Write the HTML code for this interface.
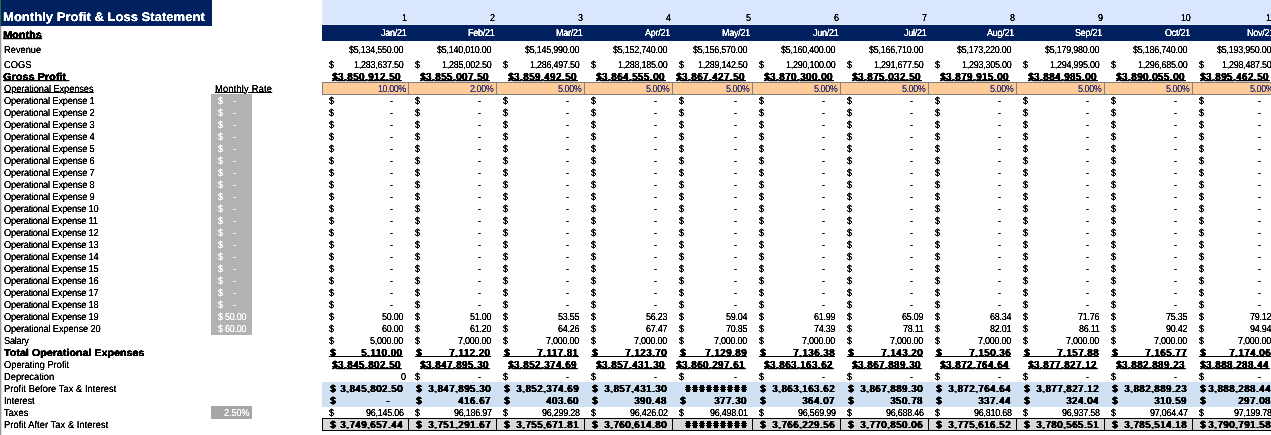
<!DOCTYPE html>
<html><head><meta charset="utf-8"><title>Monthly Profit &amp; Loss Statement</title>
<style>
html,body{margin:0;padding:0;background:#fff}
#s{position:relative;width:1271px;height:435px;overflow:hidden;background:#fff;
  font-family:"Liberation Sans",sans-serif;font-size:9px;line-height:12px;color:#000}
#s div{position:absolute;box-sizing:border-box}
#tx,#tb,#tg{position:absolute;left:0;top:0;width:1271px;height:435px;filter:url(#th)}
#tb{filter:url(#tbf)}
#tg{filter:url(#tgf)}
.t{position:absolute;white-space:nowrap;height:12px;line-height:12px;transform-origin:0 9px;transform:matrix(1,0,.001,1.12,0,0)}
.l{font-size:9.3px;transform:matrix(1,0,.001,1.08,0,0)}
.r{transform-origin:100% 9px}
.b{font-weight:bold;transform:matrix(1.21,0,.001,1.12,0,0);text-shadow:.25px 0 0 #000}
.bn{letter-spacing:.85px;text-shadow:1px 0 0 #000}
.hs{font-weight:bold;transform:scale(1.39,1.07);text-shadow:.4px 0 0 #000,-.4px 0 0 #000}
.n{letter-spacing:-0.25px}
#s .hash{background:repeating-linear-gradient(90deg,#000 0 6px,transparent 6px 7px) 0 2px/100% 1px no-repeat,repeating-linear-gradient(90deg,#000 0 6px,transparent 6px 7px) 0 4px/100% 1px no-repeat,repeating-linear-gradient(90deg,transparent 0 1px,#000 1px 5px,transparent 5px 7px)}
.u{text-decoration:underline;text-underline-offset:0.3px;text-decoration-thickness:1px}
.w{color:#fff}
.in{color:#3f3f76;letter-spacing:-0.45px}
.title{font-size:12.5px;font-weight:bold;color:#fff;height:16px;line-height:16px;transform:matrix(1.045,0,.001,1,0,0)}
</style></head><body><div id="s">
<div style="left:0px;top:0px;width:212px;height:26px;background:#002060"></div>
<div style="left:0px;top:0px;width:1px;height:26px;background:#1e7145"></div>
<div style="left:0px;top:26px;width:1px;height:409px;background:#999"></div>
<div style="left:1px;top:26px;width:1px;height:409px;background:#e0e0e0"></div>
<div style="left:322px;top:0px;width:949px;height:24px;background:#d9e6fc"></div>
<div style="left:322px;top:24px;width:949px;height:1px;background:#e3edfd"></div>
<div style="left:322px;top:25px;width:949px;height:16px;background:#002060"></div>
<div style="left:322px;top:382px;width:949px;height:25px;background:#cfe0f3"></div>
<div style="left:211px;top:94px;width:41px;height:241px;background:#b2b2b2"></div>
<div style="left:211px;top:406px;width:41px;height:13px;background:#a6a6a6"></div>
<div style="left:322px;top:82px;width:87px;height:13px;background:#ffcc99;border:1px solid #7f7f7f"></div>
<div style="left:322px;top:418px;width:87px;height:13px;background:#d9d9d9;border:1px solid #000"></div>
<div style="left:408px;top:82px;width:89px;height:13px;background:#ffcc99;border:1px solid #7f7f7f"></div>
<div style="left:408px;top:418px;width:89px;height:13px;background:#d9d9d9;border:1px solid #000"></div>
<div style="left:496px;top:82px;width:89px;height:13px;background:#ffcc99;border:1px solid #7f7f7f"></div>
<div style="left:496px;top:418px;width:89px;height:13px;background:#d9d9d9;border:1px solid #000"></div>
<div style="left:584px;top:82px;width:89px;height:13px;background:#ffcc99;border:1px solid #7f7f7f"></div>
<div style="left:584px;top:418px;width:89px;height:13px;background:#d9d9d9;border:1px solid #000"></div>
<div style="left:672px;top:82px;width:81px;height:13px;background:#ffcc99;border:1px solid #7f7f7f"></div>
<div style="left:672px;top:418px;width:81px;height:13px;background:#d9d9d9;border:1px solid #000"></div>
<div style="left:752px;top:82px;width:89px;height:13px;background:#ffcc99;border:1px solid #7f7f7f"></div>
<div style="left:752px;top:418px;width:89px;height:13px;background:#d9d9d9;border:1px solid #000"></div>
<div style="left:840px;top:82px;width:89px;height:13px;background:#ffcc99;border:1px solid #7f7f7f"></div>
<div style="left:840px;top:418px;width:89px;height:13px;background:#d9d9d9;border:1px solid #000"></div>
<div style="left:928px;top:82px;width:89px;height:13px;background:#ffcc99;border:1px solid #7f7f7f"></div>
<div style="left:928px;top:418px;width:89px;height:13px;background:#d9d9d9;border:1px solid #000"></div>
<div style="left:1016px;top:82px;width:89px;height:13px;background:#ffcc99;border:1px solid #7f7f7f"></div>
<div style="left:1016px;top:418px;width:89px;height:13px;background:#d9d9d9;border:1px solid #000"></div>
<div style="left:1104px;top:82px;width:89px;height:13px;background:#ffcc99;border:1px solid #7f7f7f"></div>
<div style="left:1104px;top:418px;width:89px;height:13px;background:#d9d9d9;border:1px solid #000"></div>
<div style="left:1192px;top:82px;width:85px;height:13px;background:#ffcc99;border:1px solid #7f7f7f"></div>
<div style="left:1192px;top:418px;width:85px;height:13px;background:#d9d9d9;border:1px solid #000"></div>
<div style="left:329px;top:356px;width:74px;height:1px;background:#000"></div>
<div style="left:415px;top:356px;width:76px;height:1px;background:#000"></div>
<div style="left:503px;top:356px;width:76px;height:1px;background:#000"></div>
<div style="left:591px;top:356px;width:76px;height:1px;background:#000"></div>
<div style="left:679px;top:356px;width:68px;height:1px;background:#000"></div>
<div class="hash" style="left:685px;top:385px;width:63px;height:7px;"></div>
<div class="hash" style="left:685px;top:421px;width:63px;height:7px;"></div>
<div style="left:759px;top:356px;width:76px;height:1px;background:#000"></div>
<div style="left:847px;top:356px;width:76px;height:1px;background:#000"></div>
<div style="left:935px;top:356px;width:76px;height:1px;background:#000"></div>
<div style="left:1023px;top:356px;width:76px;height:1px;background:#000"></div>
<div style="left:1111px;top:356px;width:76px;height:1px;background:#000"></div>
<div style="left:1199px;top:356px;width:72px;height:1px;background:#000"></div>
<section id="tx">
<span class="t title" style="left:3.4px;top:9px">Monthly Profit &amp; Loss Statement</span>
<span class="t l" style="left:3.5px;top:44px;">Revenue</span>
<span class="t l" style="left:3.5px;top:59px;">COGS</span>
<span class="t l u" style="left:3.5px;top:83px;letter-spacing:-0.1px">Operational Expenses</span>
<span class="t l u" style="left:214.5px;top:83px;letter-spacing:0.2px">Monthly Rate</span>
<span class="t l" style="left:3.5px;top:95px;letter-spacing:-0.19px">Operational Expense 1</span>
<span class="t l" style="left:3.5px;top:107px;letter-spacing:-0.19px">Operational Expense 2</span>
<span class="t l" style="left:3.5px;top:119px;letter-spacing:-0.19px">Operational Expense 3</span>
<span class="t l" style="left:3.5px;top:131px;letter-spacing:-0.19px">Operational Expense 4</span>
<span class="t l" style="left:3.5px;top:143px;letter-spacing:-0.19px">Operational Expense 5</span>
<span class="t l" style="left:3.5px;top:155px;letter-spacing:-0.19px">Operational Expense 6</span>
<span class="t l" style="left:3.5px;top:167px;letter-spacing:-0.19px">Operational Expense 7</span>
<span class="t l" style="left:3.5px;top:179px;letter-spacing:-0.19px">Operational Expense 8</span>
<span class="t l" style="left:3.5px;top:191px;letter-spacing:-0.19px">Operational Expense 9</span>
<span class="t l" style="left:3.5px;top:203px;letter-spacing:-0.24px">Operational Expense 10</span>
<span class="t l" style="left:3.5px;top:215px;letter-spacing:-0.24px">Operational Expense 11</span>
<span class="t l" style="left:3.5px;top:227px;letter-spacing:-0.24px">Operational Expense 12</span>
<span class="t l" style="left:3.5px;top:239px;letter-spacing:-0.24px">Operational Expense 13</span>
<span class="t l" style="left:3.5px;top:251px;letter-spacing:-0.24px">Operational Expense 14</span>
<span class="t l" style="left:3.5px;top:263px;letter-spacing:-0.24px">Operational Expense 15</span>
<span class="t l" style="left:3.5px;top:275px;letter-spacing:-0.24px">Operational Expense 16</span>
<span class="t l" style="left:3.5px;top:287px;letter-spacing:-0.24px">Operational Expense 17</span>
<span class="t l" style="left:3.5px;top:299px;letter-spacing:-0.24px">Operational Expense 18</span>
<span class="t l" style="left:3.5px;top:311px;letter-spacing:-0.24px">Operational Expense 19</span>
<span class="t l" style="left:3.5px;top:323px;letter-spacing:-0.15px">Operational Expense 20</span>
<span class="t l" style="left:3.5px;top:335px;letter-spacing:-0.3px">Salary</span>
<span class="t l" style="left:3.5px;top:359px;">Operating Profit</span>
<span class="t l" style="left:3.5px;top:371px;">Deprecation</span>
<span class="t l" style="left:3.5px;top:383px;letter-spacing:0.05px">Profit Before Tax &amp; Interest</span>
<span class="t l" style="left:3.5px;top:395px;letter-spacing:-0.05px">Interest</span>
<span class="t l" style="left:3.5px;top:407px;">Taxes</span>
<span class="t l" style="left:3.5px;top:419px;letter-spacing:0.06px">Profit After Tax &amp; Interest</span>
<span class="t r n" style="right:864.5px;top:12px;">1</span>
<span class="t r w n" style="right:864.5px;top:27px;">Jan/21</span>
<span class="t r n" style="right:867.5px;top:44px;">$5,134,550.00</span>
<span class="t " style="left:328.7px;top:59px;">$</span>
<span class="t r n" style="right:867.5px;top:59px;">1,283,637.50</span>
<span class="t r in" style="right:865.3px;top:83px;">10.00%</span>
<span class="t " style="left:328.7px;top:95px;">$</span>
<span class="t r " style="right:877.8px;top:95px;">-</span>
<span class="t " style="left:328.7px;top:107px;">$</span>
<span class="t r " style="right:877.8px;top:107px;">-</span>
<span class="t " style="left:328.7px;top:119px;">$</span>
<span class="t r " style="right:877.8px;top:119px;">-</span>
<span class="t " style="left:328.7px;top:131px;">$</span>
<span class="t r " style="right:877.8px;top:131px;">-</span>
<span class="t " style="left:328.7px;top:143px;">$</span>
<span class="t r " style="right:877.8px;top:143px;">-</span>
<span class="t " style="left:328.7px;top:155px;">$</span>
<span class="t r " style="right:877.8px;top:155px;">-</span>
<span class="t " style="left:328.7px;top:167px;">$</span>
<span class="t r " style="right:877.8px;top:167px;">-</span>
<span class="t " style="left:328.7px;top:179px;">$</span>
<span class="t r " style="right:877.8px;top:179px;">-</span>
<span class="t " style="left:328.7px;top:191px;">$</span>
<span class="t r " style="right:877.8px;top:191px;">-</span>
<span class="t " style="left:328.7px;top:203px;">$</span>
<span class="t r " style="right:877.8px;top:203px;">-</span>
<span class="t " style="left:328.7px;top:215px;">$</span>
<span class="t r " style="right:877.8px;top:215px;">-</span>
<span class="t " style="left:328.7px;top:227px;">$</span>
<span class="t r " style="right:877.8px;top:227px;">-</span>
<span class="t " style="left:328.7px;top:239px;">$</span>
<span class="t r " style="right:877.8px;top:239px;">-</span>
<span class="t " style="left:328.7px;top:251px;">$</span>
<span class="t r " style="right:877.8px;top:251px;">-</span>
<span class="t " style="left:328.7px;top:263px;">$</span>
<span class="t r " style="right:877.8px;top:263px;">-</span>
<span class="t " style="left:328.7px;top:275px;">$</span>
<span class="t r " style="right:877.8px;top:275px;">-</span>
<span class="t " style="left:328.7px;top:287px;">$</span>
<span class="t r " style="right:877.8px;top:287px;">-</span>
<span class="t " style="left:328.7px;top:299px;">$</span>
<span class="t r " style="right:877.8px;top:299px;">-</span>
<span class="t " style="left:328.7px;top:311px;">$</span>
<span class="t r n" style="right:867.5px;top:311px;">50.00</span>
<span class="t " style="left:328.7px;top:323px;">$</span>
<span class="t r n" style="right:867.5px;top:323px;">60.00</span>
<span class="t " style="left:328.7px;top:335px;">$</span>
<span class="t r n" style="right:867.5px;top:335px;">5,000.00</span>
<span class="t r " style="right:864.5px;top:371px;">0</span>
<span class="t " style="left:328.7px;top:407px;">$</span>
<span class="t r n" style="right:867.5px;top:407px;">96,145.06</span>
<span class="t r n" style="right:776.5px;top:12px;">2</span>
<span class="t r w n" style="right:776.5px;top:27px;">Feb/21</span>
<span class="t r n" style="right:779.5px;top:44px;">$5,140,010.00</span>
<span class="t " style="left:414.7px;top:59px;">$</span>
<span class="t r n" style="right:779.5px;top:59px;">1,285,002.50</span>
<span class="t r in" style="right:777.3px;top:83px;">2.00%</span>
<span class="t " style="left:414.7px;top:95px;">$</span>
<span class="t r " style="right:789.8px;top:95px;">-</span>
<span class="t " style="left:414.7px;top:107px;">$</span>
<span class="t r " style="right:789.8px;top:107px;">-</span>
<span class="t " style="left:414.7px;top:119px;">$</span>
<span class="t r " style="right:789.8px;top:119px;">-</span>
<span class="t " style="left:414.7px;top:131px;">$</span>
<span class="t r " style="right:789.8px;top:131px;">-</span>
<span class="t " style="left:414.7px;top:143px;">$</span>
<span class="t r " style="right:789.8px;top:143px;">-</span>
<span class="t " style="left:414.7px;top:155px;">$</span>
<span class="t r " style="right:789.8px;top:155px;">-</span>
<span class="t " style="left:414.7px;top:167px;">$</span>
<span class="t r " style="right:789.8px;top:167px;">-</span>
<span class="t " style="left:414.7px;top:179px;">$</span>
<span class="t r " style="right:789.8px;top:179px;">-</span>
<span class="t " style="left:414.7px;top:191px;">$</span>
<span class="t r " style="right:789.8px;top:191px;">-</span>
<span class="t " style="left:414.7px;top:203px;">$</span>
<span class="t r " style="right:789.8px;top:203px;">-</span>
<span class="t " style="left:414.7px;top:215px;">$</span>
<span class="t r " style="right:789.8px;top:215px;">-</span>
<span class="t " style="left:414.7px;top:227px;">$</span>
<span class="t r " style="right:789.8px;top:227px;">-</span>
<span class="t " style="left:414.7px;top:239px;">$</span>
<span class="t r " style="right:789.8px;top:239px;">-</span>
<span class="t " style="left:414.7px;top:251px;">$</span>
<span class="t r " style="right:789.8px;top:251px;">-</span>
<span class="t " style="left:414.7px;top:263px;">$</span>
<span class="t r " style="right:789.8px;top:263px;">-</span>
<span class="t " style="left:414.7px;top:275px;">$</span>
<span class="t r " style="right:789.8px;top:275px;">-</span>
<span class="t " style="left:414.7px;top:287px;">$</span>
<span class="t r " style="right:789.8px;top:287px;">-</span>
<span class="t " style="left:414.7px;top:299px;">$</span>
<span class="t r " style="right:789.8px;top:299px;">-</span>
<span class="t " style="left:414.7px;top:311px;">$</span>
<span class="t r n" style="right:779.5px;top:311px;">51.00</span>
<span class="t " style="left:414.7px;top:323px;">$</span>
<span class="t r n" style="right:779.5px;top:323px;">61.20</span>
<span class="t " style="left:414.7px;top:335px;">$</span>
<span class="t r n" style="right:779.5px;top:335px;">7,000.00</span>
<span class="t " style="left:414.7px;top:371px;">$</span>
<span class="t r " style="right:789.8px;top:371px;">-</span>
<span class="t " style="left:414.7px;top:407px;">$</span>
<span class="t r n" style="right:779.5px;top:407px;">96,186.97</span>
<span class="t r n" style="right:688.5px;top:12px;">3</span>
<span class="t r w n" style="right:688.5px;top:27px;">Mar/21</span>
<span class="t r n" style="right:691.5px;top:44px;">$5,145,990.00</span>
<span class="t " style="left:502.7px;top:59px;">$</span>
<span class="t r n" style="right:691.5px;top:59px;">1,286,497.50</span>
<span class="t r in" style="right:689.3px;top:83px;">5.00%</span>
<span class="t " style="left:502.7px;top:95px;">$</span>
<span class="t r " style="right:701.8px;top:95px;">-</span>
<span class="t " style="left:502.7px;top:107px;">$</span>
<span class="t r " style="right:701.8px;top:107px;">-</span>
<span class="t " style="left:502.7px;top:119px;">$</span>
<span class="t r " style="right:701.8px;top:119px;">-</span>
<span class="t " style="left:502.7px;top:131px;">$</span>
<span class="t r " style="right:701.8px;top:131px;">-</span>
<span class="t " style="left:502.7px;top:143px;">$</span>
<span class="t r " style="right:701.8px;top:143px;">-</span>
<span class="t " style="left:502.7px;top:155px;">$</span>
<span class="t r " style="right:701.8px;top:155px;">-</span>
<span class="t " style="left:502.7px;top:167px;">$</span>
<span class="t r " style="right:701.8px;top:167px;">-</span>
<span class="t " style="left:502.7px;top:179px;">$</span>
<span class="t r " style="right:701.8px;top:179px;">-</span>
<span class="t " style="left:502.7px;top:191px;">$</span>
<span class="t r " style="right:701.8px;top:191px;">-</span>
<span class="t " style="left:502.7px;top:203px;">$</span>
<span class="t r " style="right:701.8px;top:203px;">-</span>
<span class="t " style="left:502.7px;top:215px;">$</span>
<span class="t r " style="right:701.8px;top:215px;">-</span>
<span class="t " style="left:502.7px;top:227px;">$</span>
<span class="t r " style="right:701.8px;top:227px;">-</span>
<span class="t " style="left:502.7px;top:239px;">$</span>
<span class="t r " style="right:701.8px;top:239px;">-</span>
<span class="t " style="left:502.7px;top:251px;">$</span>
<span class="t r " style="right:701.8px;top:251px;">-</span>
<span class="t " style="left:502.7px;top:263px;">$</span>
<span class="t r " style="right:701.8px;top:263px;">-</span>
<span class="t " style="left:502.7px;top:275px;">$</span>
<span class="t r " style="right:701.8px;top:275px;">-</span>
<span class="t " style="left:502.7px;top:287px;">$</span>
<span class="t r " style="right:701.8px;top:287px;">-</span>
<span class="t " style="left:502.7px;top:299px;">$</span>
<span class="t r " style="right:701.8px;top:299px;">-</span>
<span class="t " style="left:502.7px;top:311px;">$</span>
<span class="t r n" style="right:691.5px;top:311px;">53.55</span>
<span class="t " style="left:502.7px;top:323px;">$</span>
<span class="t r n" style="right:691.5px;top:323px;">64.26</span>
<span class="t " style="left:502.7px;top:335px;">$</span>
<span class="t r n" style="right:691.5px;top:335px;">7,000.00</span>
<span class="t " style="left:502.7px;top:371px;">$</span>
<span class="t r " style="right:701.8px;top:371px;">-</span>
<span class="t " style="left:502.7px;top:407px;">$</span>
<span class="t r n" style="right:691.5px;top:407px;">96,299.28</span>
<span class="t r n" style="right:600.5px;top:12px;">4</span>
<span class="t r w n" style="right:600.5px;top:27px;">Apr/21</span>
<span class="t r n" style="right:603.5px;top:44px;">$5,152,740.00</span>
<span class="t " style="left:590.7px;top:59px;">$</span>
<span class="t r n" style="right:603.5px;top:59px;">1,288,185.00</span>
<span class="t r in" style="right:601.3px;top:83px;">5.00%</span>
<span class="t " style="left:590.7px;top:95px;">$</span>
<span class="t r " style="right:613.8px;top:95px;">-</span>
<span class="t " style="left:590.7px;top:107px;">$</span>
<span class="t r " style="right:613.8px;top:107px;">-</span>
<span class="t " style="left:590.7px;top:119px;">$</span>
<span class="t r " style="right:613.8px;top:119px;">-</span>
<span class="t " style="left:590.7px;top:131px;">$</span>
<span class="t r " style="right:613.8px;top:131px;">-</span>
<span class="t " style="left:590.7px;top:143px;">$</span>
<span class="t r " style="right:613.8px;top:143px;">-</span>
<span class="t " style="left:590.7px;top:155px;">$</span>
<span class="t r " style="right:613.8px;top:155px;">-</span>
<span class="t " style="left:590.7px;top:167px;">$</span>
<span class="t r " style="right:613.8px;top:167px;">-</span>
<span class="t " style="left:590.7px;top:179px;">$</span>
<span class="t r " style="right:613.8px;top:179px;">-</span>
<span class="t " style="left:590.7px;top:191px;">$</span>
<span class="t r " style="right:613.8px;top:191px;">-</span>
<span class="t " style="left:590.7px;top:203px;">$</span>
<span class="t r " style="right:613.8px;top:203px;">-</span>
<span class="t " style="left:590.7px;top:215px;">$</span>
<span class="t r " style="right:613.8px;top:215px;">-</span>
<span class="t " style="left:590.7px;top:227px;">$</span>
<span class="t r " style="right:613.8px;top:227px;">-</span>
<span class="t " style="left:590.7px;top:239px;">$</span>
<span class="t r " style="right:613.8px;top:239px;">-</span>
<span class="t " style="left:590.7px;top:251px;">$</span>
<span class="t r " style="right:613.8px;top:251px;">-</span>
<span class="t " style="left:590.7px;top:263px;">$</span>
<span class="t r " style="right:613.8px;top:263px;">-</span>
<span class="t " style="left:590.7px;top:275px;">$</span>
<span class="t r " style="right:613.8px;top:275px;">-</span>
<span class="t " style="left:590.7px;top:287px;">$</span>
<span class="t r " style="right:613.8px;top:287px;">-</span>
<span class="t " style="left:590.7px;top:299px;">$</span>
<span class="t r " style="right:613.8px;top:299px;">-</span>
<span class="t " style="left:590.7px;top:311px;">$</span>
<span class="t r n" style="right:603.5px;top:311px;">56.23</span>
<span class="t " style="left:590.7px;top:323px;">$</span>
<span class="t r n" style="right:603.5px;top:323px;">67.47</span>
<span class="t " style="left:590.7px;top:335px;">$</span>
<span class="t r n" style="right:603.5px;top:335px;">7,000.00</span>
<span class="t " style="left:590.7px;top:371px;">$</span>
<span class="t r " style="right:613.8px;top:371px;">-</span>
<span class="t " style="left:590.7px;top:407px;">$</span>
<span class="t r n" style="right:603.5px;top:407px;">96,426.02</span>
<span class="t r n" style="right:520.5px;top:12px;">5</span>
<span class="t r w n" style="right:520.5px;top:27px;">May/21</span>
<span class="t r n" style="right:523.5px;top:44px;">$5,156,570.00</span>
<span class="t " style="left:678.7px;top:59px;">$</span>
<span class="t r n" style="right:523.5px;top:59px;">1,289,142.50</span>
<span class="t r in" style="right:521.3px;top:83px;">5.00%</span>
<span class="t " style="left:678.7px;top:95px;">$</span>
<span class="t r " style="right:533.8px;top:95px;">-</span>
<span class="t " style="left:678.7px;top:107px;">$</span>
<span class="t r " style="right:533.8px;top:107px;">-</span>
<span class="t " style="left:678.7px;top:119px;">$</span>
<span class="t r " style="right:533.8px;top:119px;">-</span>
<span class="t " style="left:678.7px;top:131px;">$</span>
<span class="t r " style="right:533.8px;top:131px;">-</span>
<span class="t " style="left:678.7px;top:143px;">$</span>
<span class="t r " style="right:533.8px;top:143px;">-</span>
<span class="t " style="left:678.7px;top:155px;">$</span>
<span class="t r " style="right:533.8px;top:155px;">-</span>
<span class="t " style="left:678.7px;top:167px;">$</span>
<span class="t r " style="right:533.8px;top:167px;">-</span>
<span class="t " style="left:678.7px;top:179px;">$</span>
<span class="t r " style="right:533.8px;top:179px;">-</span>
<span class="t " style="left:678.7px;top:191px;">$</span>
<span class="t r " style="right:533.8px;top:191px;">-</span>
<span class="t " style="left:678.7px;top:203px;">$</span>
<span class="t r " style="right:533.8px;top:203px;">-</span>
<span class="t " style="left:678.7px;top:215px;">$</span>
<span class="t r " style="right:533.8px;top:215px;">-</span>
<span class="t " style="left:678.7px;top:227px;">$</span>
<span class="t r " style="right:533.8px;top:227px;">-</span>
<span class="t " style="left:678.7px;top:239px;">$</span>
<span class="t r " style="right:533.8px;top:239px;">-</span>
<span class="t " style="left:678.7px;top:251px;">$</span>
<span class="t r " style="right:533.8px;top:251px;">-</span>
<span class="t " style="left:678.7px;top:263px;">$</span>
<span class="t r " style="right:533.8px;top:263px;">-</span>
<span class="t " style="left:678.7px;top:275px;">$</span>
<span class="t r " style="right:533.8px;top:275px;">-</span>
<span class="t " style="left:678.7px;top:287px;">$</span>
<span class="t r " style="right:533.8px;top:287px;">-</span>
<span class="t " style="left:678.7px;top:299px;">$</span>
<span class="t r " style="right:533.8px;top:299px;">-</span>
<span class="t " style="left:678.7px;top:311px;">$</span>
<span class="t r n" style="right:523.5px;top:311px;">59.04</span>
<span class="t " style="left:678.7px;top:323px;">$</span>
<span class="t r n" style="right:523.5px;top:323px;">70.85</span>
<span class="t " style="left:678.7px;top:335px;">$</span>
<span class="t r n" style="right:523.5px;top:335px;">7,000.00</span>
<span class="t " style="left:678.7px;top:371px;">$</span>
<span class="t r " style="right:533.8px;top:371px;">-</span>
<span class="t " style="left:678.7px;top:407px;">$</span>
<span class="t r n" style="right:523.5px;top:407px;">96,498.01</span>
<span class="t r n" style="right:432.5px;top:12px;">6</span>
<span class="t r w n" style="right:432.5px;top:27px;">Jun/21</span>
<span class="t r n" style="right:435.5px;top:44px;">$5,160,400.00</span>
<span class="t " style="left:758.7px;top:59px;">$</span>
<span class="t r n" style="right:435.5px;top:59px;">1,290,100.00</span>
<span class="t r in" style="right:433.3px;top:83px;">5.00%</span>
<span class="t " style="left:758.7px;top:95px;">$</span>
<span class="t r " style="right:445.8px;top:95px;">-</span>
<span class="t " style="left:758.7px;top:107px;">$</span>
<span class="t r " style="right:445.8px;top:107px;">-</span>
<span class="t " style="left:758.7px;top:119px;">$</span>
<span class="t r " style="right:445.8px;top:119px;">-</span>
<span class="t " style="left:758.7px;top:131px;">$</span>
<span class="t r " style="right:445.8px;top:131px;">-</span>
<span class="t " style="left:758.7px;top:143px;">$</span>
<span class="t r " style="right:445.8px;top:143px;">-</span>
<span class="t " style="left:758.7px;top:155px;">$</span>
<span class="t r " style="right:445.8px;top:155px;">-</span>
<span class="t " style="left:758.7px;top:167px;">$</span>
<span class="t r " style="right:445.8px;top:167px;">-</span>
<span class="t " style="left:758.7px;top:179px;">$</span>
<span class="t r " style="right:445.8px;top:179px;">-</span>
<span class="t " style="left:758.7px;top:191px;">$</span>
<span class="t r " style="right:445.8px;top:191px;">-</span>
<span class="t " style="left:758.7px;top:203px;">$</span>
<span class="t r " style="right:445.8px;top:203px;">-</span>
<span class="t " style="left:758.7px;top:215px;">$</span>
<span class="t r " style="right:445.8px;top:215px;">-</span>
<span class="t " style="left:758.7px;top:227px;">$</span>
<span class="t r " style="right:445.8px;top:227px;">-</span>
<span class="t " style="left:758.7px;top:239px;">$</span>
<span class="t r " style="right:445.8px;top:239px;">-</span>
<span class="t " style="left:758.7px;top:251px;">$</span>
<span class="t r " style="right:445.8px;top:251px;">-</span>
<span class="t " style="left:758.7px;top:263px;">$</span>
<span class="t r " style="right:445.8px;top:263px;">-</span>
<span class="t " style="left:758.7px;top:275px;">$</span>
<span class="t r " style="right:445.8px;top:275px;">-</span>
<span class="t " style="left:758.7px;top:287px;">$</span>
<span class="t r " style="right:445.8px;top:287px;">-</span>
<span class="t " style="left:758.7px;top:299px;">$</span>
<span class="t r " style="right:445.8px;top:299px;">-</span>
<span class="t " style="left:758.7px;top:311px;">$</span>
<span class="t r n" style="right:435.5px;top:311px;">61.99</span>
<span class="t " style="left:758.7px;top:323px;">$</span>
<span class="t r n" style="right:435.5px;top:323px;">74.39</span>
<span class="t " style="left:758.7px;top:335px;">$</span>
<span class="t r n" style="right:435.5px;top:335px;">7,000.00</span>
<span class="t " style="left:758.7px;top:371px;">$</span>
<span class="t r " style="right:445.8px;top:371px;">-</span>
<span class="t " style="left:758.7px;top:407px;">$</span>
<span class="t r n" style="right:435.5px;top:407px;">96,569.99</span>
<span class="t r n" style="right:344.5px;top:12px;">7</span>
<span class="t r w n" style="right:344.5px;top:27px;">Jul/21</span>
<span class="t r n" style="right:347.5px;top:44px;">$5,166,710.00</span>
<span class="t " style="left:846.7px;top:59px;">$</span>
<span class="t r n" style="right:347.5px;top:59px;">1,291,677.50</span>
<span class="t r in" style="right:345.3px;top:83px;">5.00%</span>
<span class="t " style="left:846.7px;top:95px;">$</span>
<span class="t r " style="right:357.8px;top:95px;">-</span>
<span class="t " style="left:846.7px;top:107px;">$</span>
<span class="t r " style="right:357.8px;top:107px;">-</span>
<span class="t " style="left:846.7px;top:119px;">$</span>
<span class="t r " style="right:357.8px;top:119px;">-</span>
<span class="t " style="left:846.7px;top:131px;">$</span>
<span class="t r " style="right:357.8px;top:131px;">-</span>
<span class="t " style="left:846.7px;top:143px;">$</span>
<span class="t r " style="right:357.8px;top:143px;">-</span>
<span class="t " style="left:846.7px;top:155px;">$</span>
<span class="t r " style="right:357.8px;top:155px;">-</span>
<span class="t " style="left:846.7px;top:167px;">$</span>
<span class="t r " style="right:357.8px;top:167px;">-</span>
<span class="t " style="left:846.7px;top:179px;">$</span>
<span class="t r " style="right:357.8px;top:179px;">-</span>
<span class="t " style="left:846.7px;top:191px;">$</span>
<span class="t r " style="right:357.8px;top:191px;">-</span>
<span class="t " style="left:846.7px;top:203px;">$</span>
<span class="t r " style="right:357.8px;top:203px;">-</span>
<span class="t " style="left:846.7px;top:215px;">$</span>
<span class="t r " style="right:357.8px;top:215px;">-</span>
<span class="t " style="left:846.7px;top:227px;">$</span>
<span class="t r " style="right:357.8px;top:227px;">-</span>
<span class="t " style="left:846.7px;top:239px;">$</span>
<span class="t r " style="right:357.8px;top:239px;">-</span>
<span class="t " style="left:846.7px;top:251px;">$</span>
<span class="t r " style="right:357.8px;top:251px;">-</span>
<span class="t " style="left:846.7px;top:263px;">$</span>
<span class="t r " style="right:357.8px;top:263px;">-</span>
<span class="t " style="left:846.7px;top:275px;">$</span>
<span class="t r " style="right:357.8px;top:275px;">-</span>
<span class="t " style="left:846.7px;top:287px;">$</span>
<span class="t r " style="right:357.8px;top:287px;">-</span>
<span class="t " style="left:846.7px;top:299px;">$</span>
<span class="t r " style="right:357.8px;top:299px;">-</span>
<span class="t " style="left:846.7px;top:311px;">$</span>
<span class="t r n" style="right:347.5px;top:311px;">65.09</span>
<span class="t " style="left:846.7px;top:323px;">$</span>
<span class="t r n" style="right:347.5px;top:323px;">78.11</span>
<span class="t " style="left:846.7px;top:335px;">$</span>
<span class="t r n" style="right:347.5px;top:335px;">7,000.00</span>
<span class="t " style="left:846.7px;top:371px;">$</span>
<span class="t r " style="right:357.8px;top:371px;">-</span>
<span class="t " style="left:846.7px;top:407px;">$</span>
<span class="t r n" style="right:347.5px;top:407px;">96,688.46</span>
<span class="t r n" style="right:256.5px;top:12px;">8</span>
<span class="t r w n" style="right:256.5px;top:27px;">Aug/21</span>
<span class="t r n" style="right:259.5px;top:44px;">$5,173,220.00</span>
<span class="t " style="left:934.7px;top:59px;">$</span>
<span class="t r n" style="right:259.5px;top:59px;">1,293,305.00</span>
<span class="t r in" style="right:257.3px;top:83px;">5.00%</span>
<span class="t " style="left:934.7px;top:95px;">$</span>
<span class="t r " style="right:269.8px;top:95px;">-</span>
<span class="t " style="left:934.7px;top:107px;">$</span>
<span class="t r " style="right:269.8px;top:107px;">-</span>
<span class="t " style="left:934.7px;top:119px;">$</span>
<span class="t r " style="right:269.8px;top:119px;">-</span>
<span class="t " style="left:934.7px;top:131px;">$</span>
<span class="t r " style="right:269.8px;top:131px;">-</span>
<span class="t " style="left:934.7px;top:143px;">$</span>
<span class="t r " style="right:269.8px;top:143px;">-</span>
<span class="t " style="left:934.7px;top:155px;">$</span>
<span class="t r " style="right:269.8px;top:155px;">-</span>
<span class="t " style="left:934.7px;top:167px;">$</span>
<span class="t r " style="right:269.8px;top:167px;">-</span>
<span class="t " style="left:934.7px;top:179px;">$</span>
<span class="t r " style="right:269.8px;top:179px;">-</span>
<span class="t " style="left:934.7px;top:191px;">$</span>
<span class="t r " style="right:269.8px;top:191px;">-</span>
<span class="t " style="left:934.7px;top:203px;">$</span>
<span class="t r " style="right:269.8px;top:203px;">-</span>
<span class="t " style="left:934.7px;top:215px;">$</span>
<span class="t r " style="right:269.8px;top:215px;">-</span>
<span class="t " style="left:934.7px;top:227px;">$</span>
<span class="t r " style="right:269.8px;top:227px;">-</span>
<span class="t " style="left:934.7px;top:239px;">$</span>
<span class="t r " style="right:269.8px;top:239px;">-</span>
<span class="t " style="left:934.7px;top:251px;">$</span>
<span class="t r " style="right:269.8px;top:251px;">-</span>
<span class="t " style="left:934.7px;top:263px;">$</span>
<span class="t r " style="right:269.8px;top:263px;">-</span>
<span class="t " style="left:934.7px;top:275px;">$</span>
<span class="t r " style="right:269.8px;top:275px;">-</span>
<span class="t " style="left:934.7px;top:287px;">$</span>
<span class="t r " style="right:269.8px;top:287px;">-</span>
<span class="t " style="left:934.7px;top:299px;">$</span>
<span class="t r " style="right:269.8px;top:299px;">-</span>
<span class="t " style="left:934.7px;top:311px;">$</span>
<span class="t r n" style="right:259.5px;top:311px;">68.34</span>
<span class="t " style="left:934.7px;top:323px;">$</span>
<span class="t r n" style="right:259.5px;top:323px;">82.01</span>
<span class="t " style="left:934.7px;top:335px;">$</span>
<span class="t r n" style="right:259.5px;top:335px;">7,000.00</span>
<span class="t " style="left:934.7px;top:371px;">$</span>
<span class="t r " style="right:269.8px;top:371px;">-</span>
<span class="t " style="left:934.7px;top:407px;">$</span>
<span class="t r n" style="right:259.5px;top:407px;">96,810.68</span>
<span class="t r n" style="right:168.5px;top:12px;">9</span>
<span class="t r w n" style="right:168.5px;top:27px;">Sep/21</span>
<span class="t r n" style="right:171.5px;top:44px;">$5,179,980.00</span>
<span class="t " style="left:1022.7px;top:59px;">$</span>
<span class="t r n" style="right:171.5px;top:59px;">1,294,995.00</span>
<span class="t r in" style="right:169.3px;top:83px;">5.00%</span>
<span class="t " style="left:1022.7px;top:95px;">$</span>
<span class="t r " style="right:181.8px;top:95px;">-</span>
<span class="t " style="left:1022.7px;top:107px;">$</span>
<span class="t r " style="right:181.8px;top:107px;">-</span>
<span class="t " style="left:1022.7px;top:119px;">$</span>
<span class="t r " style="right:181.8px;top:119px;">-</span>
<span class="t " style="left:1022.7px;top:131px;">$</span>
<span class="t r " style="right:181.8px;top:131px;">-</span>
<span class="t " style="left:1022.7px;top:143px;">$</span>
<span class="t r " style="right:181.8px;top:143px;">-</span>
<span class="t " style="left:1022.7px;top:155px;">$</span>
<span class="t r " style="right:181.8px;top:155px;">-</span>
<span class="t " style="left:1022.7px;top:167px;">$</span>
<span class="t r " style="right:181.8px;top:167px;">-</span>
<span class="t " style="left:1022.7px;top:179px;">$</span>
<span class="t r " style="right:181.8px;top:179px;">-</span>
<span class="t " style="left:1022.7px;top:191px;">$</span>
<span class="t r " style="right:181.8px;top:191px;">-</span>
<span class="t " style="left:1022.7px;top:203px;">$</span>
<span class="t r " style="right:181.8px;top:203px;">-</span>
<span class="t " style="left:1022.7px;top:215px;">$</span>
<span class="t r " style="right:181.8px;top:215px;">-</span>
<span class="t " style="left:1022.7px;top:227px;">$</span>
<span class="t r " style="right:181.8px;top:227px;">-</span>
<span class="t " style="left:1022.7px;top:239px;">$</span>
<span class="t r " style="right:181.8px;top:239px;">-</span>
<span class="t " style="left:1022.7px;top:251px;">$</span>
<span class="t r " style="right:181.8px;top:251px;">-</span>
<span class="t " style="left:1022.7px;top:263px;">$</span>
<span class="t r " style="right:181.8px;top:263px;">-</span>
<span class="t " style="left:1022.7px;top:275px;">$</span>
<span class="t r " style="right:181.8px;top:275px;">-</span>
<span class="t " style="left:1022.7px;top:287px;">$</span>
<span class="t r " style="right:181.8px;top:287px;">-</span>
<span class="t " style="left:1022.7px;top:299px;">$</span>
<span class="t r " style="right:181.8px;top:299px;">-</span>
<span class="t " style="left:1022.7px;top:311px;">$</span>
<span class="t r n" style="right:171.5px;top:311px;">71.76</span>
<span class="t " style="left:1022.7px;top:323px;">$</span>
<span class="t r n" style="right:171.5px;top:323px;">86.11</span>
<span class="t " style="left:1022.7px;top:335px;">$</span>
<span class="t r n" style="right:171.5px;top:335px;">7,000.00</span>
<span class="t " style="left:1022.7px;top:371px;">$</span>
<span class="t r " style="right:181.8px;top:371px;">-</span>
<span class="t " style="left:1022.7px;top:407px;">$</span>
<span class="t r n" style="right:171.5px;top:407px;">96,937.58</span>
<span class="t r n" style="right:80.5px;top:12px;">10</span>
<span class="t r w n" style="right:80.5px;top:27px;">Oct/21</span>
<span class="t r n" style="right:83.5px;top:44px;">$5,186,740.00</span>
<span class="t " style="left:1110.7px;top:59px;">$</span>
<span class="t r n" style="right:83.5px;top:59px;">1,296,685.00</span>
<span class="t r in" style="right:81.3px;top:83px;">5.00%</span>
<span class="t " style="left:1110.7px;top:95px;">$</span>
<span class="t r " style="right:93.8px;top:95px;">-</span>
<span class="t " style="left:1110.7px;top:107px;">$</span>
<span class="t r " style="right:93.8px;top:107px;">-</span>
<span class="t " style="left:1110.7px;top:119px;">$</span>
<span class="t r " style="right:93.8px;top:119px;">-</span>
<span class="t " style="left:1110.7px;top:131px;">$</span>
<span class="t r " style="right:93.8px;top:131px;">-</span>
<span class="t " style="left:1110.7px;top:143px;">$</span>
<span class="t r " style="right:93.8px;top:143px;">-</span>
<span class="t " style="left:1110.7px;top:155px;">$</span>
<span class="t r " style="right:93.8px;top:155px;">-</span>
<span class="t " style="left:1110.7px;top:167px;">$</span>
<span class="t r " style="right:93.8px;top:167px;">-</span>
<span class="t " style="left:1110.7px;top:179px;">$</span>
<span class="t r " style="right:93.8px;top:179px;">-</span>
<span class="t " style="left:1110.7px;top:191px;">$</span>
<span class="t r " style="right:93.8px;top:191px;">-</span>
<span class="t " style="left:1110.7px;top:203px;">$</span>
<span class="t r " style="right:93.8px;top:203px;">-</span>
<span class="t " style="left:1110.7px;top:215px;">$</span>
<span class="t r " style="right:93.8px;top:215px;">-</span>
<span class="t " style="left:1110.7px;top:227px;">$</span>
<span class="t r " style="right:93.8px;top:227px;">-</span>
<span class="t " style="left:1110.7px;top:239px;">$</span>
<span class="t r " style="right:93.8px;top:239px;">-</span>
<span class="t " style="left:1110.7px;top:251px;">$</span>
<span class="t r " style="right:93.8px;top:251px;">-</span>
<span class="t " style="left:1110.7px;top:263px;">$</span>
<span class="t r " style="right:93.8px;top:263px;">-</span>
<span class="t " style="left:1110.7px;top:275px;">$</span>
<span class="t r " style="right:93.8px;top:275px;">-</span>
<span class="t " style="left:1110.7px;top:287px;">$</span>
<span class="t r " style="right:93.8px;top:287px;">-</span>
<span class="t " style="left:1110.7px;top:299px;">$</span>
<span class="t r " style="right:93.8px;top:299px;">-</span>
<span class="t " style="left:1110.7px;top:311px;">$</span>
<span class="t r n" style="right:83.5px;top:311px;">75.35</span>
<span class="t " style="left:1110.7px;top:323px;">$</span>
<span class="t r n" style="right:83.5px;top:323px;">90.42</span>
<span class="t " style="left:1110.7px;top:335px;">$</span>
<span class="t r n" style="right:83.5px;top:335px;">7,000.00</span>
<span class="t " style="left:1110.7px;top:371px;">$</span>
<span class="t r " style="right:93.8px;top:371px;">-</span>
<span class="t " style="left:1110.7px;top:407px;">$</span>
<span class="t r n" style="right:83.5px;top:407px;">97,064.47</span>
<span class="t r n" style="right:-3.5px;top:12px;">11</span>
<span class="t r w n" style="right:-3.5px;top:27px;">Nov/21</span>
<span class="t r n" style="right:-0.5px;top:44px;">$5,193,950.00</span>
<span class="t " style="left:1198.7px;top:59px;">$</span>
<span class="t r n" style="right:-0.5px;top:59px;">1,298,487.50</span>
<span class="t r in" style="right:-2.7px;top:83px;">5.00%</span>
<span class="t " style="left:1198.7px;top:95px;">$</span>
<span class="t r " style="right:9.8px;top:95px;">-</span>
<span class="t " style="left:1198.7px;top:107px;">$</span>
<span class="t r " style="right:9.8px;top:107px;">-</span>
<span class="t " style="left:1198.7px;top:119px;">$</span>
<span class="t r " style="right:9.8px;top:119px;">-</span>
<span class="t " style="left:1198.7px;top:131px;">$</span>
<span class="t r " style="right:9.8px;top:131px;">-</span>
<span class="t " style="left:1198.7px;top:143px;">$</span>
<span class="t r " style="right:9.8px;top:143px;">-</span>
<span class="t " style="left:1198.7px;top:155px;">$</span>
<span class="t r " style="right:9.8px;top:155px;">-</span>
<span class="t " style="left:1198.7px;top:167px;">$</span>
<span class="t r " style="right:9.8px;top:167px;">-</span>
<span class="t " style="left:1198.7px;top:179px;">$</span>
<span class="t r " style="right:9.8px;top:179px;">-</span>
<span class="t " style="left:1198.7px;top:191px;">$</span>
<span class="t r " style="right:9.8px;top:191px;">-</span>
<span class="t " style="left:1198.7px;top:203px;">$</span>
<span class="t r " style="right:9.8px;top:203px;">-</span>
<span class="t " style="left:1198.7px;top:215px;">$</span>
<span class="t r " style="right:9.8px;top:215px;">-</span>
<span class="t " style="left:1198.7px;top:227px;">$</span>
<span class="t r " style="right:9.8px;top:227px;">-</span>
<span class="t " style="left:1198.7px;top:239px;">$</span>
<span class="t r " style="right:9.8px;top:239px;">-</span>
<span class="t " style="left:1198.7px;top:251px;">$</span>
<span class="t r " style="right:9.8px;top:251px;">-</span>
<span class="t " style="left:1198.7px;top:263px;">$</span>
<span class="t r " style="right:9.8px;top:263px;">-</span>
<span class="t " style="left:1198.7px;top:275px;">$</span>
<span class="t r " style="right:9.8px;top:275px;">-</span>
<span class="t " style="left:1198.7px;top:287px;">$</span>
<span class="t r " style="right:9.8px;top:287px;">-</span>
<span class="t " style="left:1198.7px;top:299px;">$</span>
<span class="t r " style="right:9.8px;top:299px;">-</span>
<span class="t " style="left:1198.7px;top:311px;">$</span>
<span class="t r n" style="right:-0.5px;top:311px;">79.12</span>
<span class="t " style="left:1198.7px;top:323px;">$</span>
<span class="t r n" style="right:-0.5px;top:323px;">94.94</span>
<span class="t " style="left:1198.7px;top:335px;">$</span>
<span class="t r n" style="right:-0.5px;top:335px;">7,000.00</span>
<span class="t " style="left:1198.7px;top:371px;">$</span>
<span class="t r " style="right:9.8px;top:371px;">-</span>
<span class="t " style="left:1198.7px;top:407px;">$</span>
<span class="t r n" style="right:-0.5px;top:407px;">97,199.78</span>
</section>
<section id="tg">
<span class="t g w" style="left:217.5px;top:95px;">$</span>
<span class="t g w" style="left:233px;top:95px;">-</span>
<span class="t g w" style="left:217.5px;top:107px;">$</span>
<span class="t g w" style="left:233px;top:107px;">-</span>
<span class="t g w" style="left:217.5px;top:119px;">$</span>
<span class="t g w" style="left:233px;top:119px;">-</span>
<span class="t g w" style="left:217.5px;top:131px;">$</span>
<span class="t g w" style="left:233px;top:131px;">-</span>
<span class="t g w" style="left:217.5px;top:143px;">$</span>
<span class="t g w" style="left:233px;top:143px;">-</span>
<span class="t g w" style="left:217.5px;top:155px;">$</span>
<span class="t g w" style="left:233px;top:155px;">-</span>
<span class="t g w" style="left:217.5px;top:167px;">$</span>
<span class="t g w" style="left:233px;top:167px;">-</span>
<span class="t g w" style="left:217.5px;top:179px;">$</span>
<span class="t g w" style="left:233px;top:179px;">-</span>
<span class="t g w" style="left:217.5px;top:191px;">$</span>
<span class="t g w" style="left:233px;top:191px;">-</span>
<span class="t g w" style="left:217.5px;top:203px;">$</span>
<span class="t g w" style="left:233px;top:203px;">-</span>
<span class="t g w" style="left:217.5px;top:215px;">$</span>
<span class="t g w" style="left:233px;top:215px;">-</span>
<span class="t g w" style="left:217.5px;top:227px;">$</span>
<span class="t g w" style="left:233px;top:227px;">-</span>
<span class="t g w" style="left:217.5px;top:239px;">$</span>
<span class="t g w" style="left:233px;top:239px;">-</span>
<span class="t g w" style="left:217.5px;top:251px;">$</span>
<span class="t g w" style="left:233px;top:251px;">-</span>
<span class="t g w" style="left:217.5px;top:263px;">$</span>
<span class="t g w" style="left:233px;top:263px;">-</span>
<span class="t g w" style="left:217.5px;top:275px;">$</span>
<span class="t g w" style="left:233px;top:275px;">-</span>
<span class="t g w" style="left:217.5px;top:287px;">$</span>
<span class="t g w" style="left:233px;top:287px;">-</span>
<span class="t g w" style="left:217.5px;top:299px;">$</span>
<span class="t g w" style="left:233px;top:299px;">-</span>
<span class="t g w" style="left:217.5px;top:311px;">$</span>
<span class="t r g w n" style="right:1024.7px;top:311px;">50.00</span>
<span class="t g w" style="left:217.5px;top:323px;">$</span>
<span class="t r g w n" style="right:1024.7px;top:323px;">60.00</span>
<span class="t r g w" style="right:1021px;top:407px;">2.50%</span>
</section>
<section id="tb">
<span class="t b u" style="left:3.1px;top:29px;">Months</span>
<span class="t b u" style="left:3.1px;top:71px;">Gross Profit&nbsp;</span>
<span class="t b" style="left:3.5px;top:347px;transform:matrix(1.19,0,.001,1.12,0,0)">Total Operational Expenses</span>
<span class="t r bn u" style="right:870.5px;top:71px;">$3,850,912.50</span>
<span class="t bn" style="left:329.9px;top:347px;">$</span>
<span class="t r bn" style="right:868.5px;top:347px;">5,110.00</span>
<span class="t r bn u" style="right:870.1px;top:359px;">$3,845,802.50</span>
<span class="t bn" style="left:329.9px;top:383px;">$</span>
<span class="t r bn" style="right:868.5px;top:383px;">3,845,802.50</span>
<span class="t bn" style="left:329.9px;top:395px;">$</span>
<span class="t r bn" style="right:881.5px;top:395px;">-</span>
<span class="t bn" style="left:329.9px;top:419px;">$</span>
<span class="t r bn" style="right:868.5px;top:419px;">3,749,657.44</span>
<span class="t r bn u" style="right:782.5px;top:71px;">$3,855,007.50</span>
<span class="t bn" style="left:415.9px;top:347px;">$</span>
<span class="t r bn" style="right:780.5px;top:347px;">7,112.20</span>
<span class="t r bn u" style="right:782.1px;top:359px;">$3,847,895.30</span>
<span class="t bn" style="left:415.9px;top:383px;">$</span>
<span class="t r bn" style="right:780.5px;top:383px;">3,847,895.30</span>
<span class="t bn" style="left:415.9px;top:395px;">$</span>
<span class="t r bn" style="right:780.5px;top:395px;">416.67</span>
<span class="t bn" style="left:415.9px;top:419px;">$</span>
<span class="t r bn" style="right:780.5px;top:419px;">3,751,291.67</span>
<span class="t r bn u" style="right:694.5px;top:71px;">$3,859,492.50</span>
<span class="t bn" style="left:503.9px;top:347px;">$</span>
<span class="t r bn" style="right:692.5px;top:347px;">7,117.81</span>
<span class="t r bn u" style="right:694.1px;top:359px;">$3,852,374.69</span>
<span class="t bn" style="left:503.9px;top:383px;">$</span>
<span class="t r bn" style="right:692.5px;top:383px;">3,852,374.69</span>
<span class="t bn" style="left:503.9px;top:395px;">$</span>
<span class="t r bn" style="right:692.5px;top:395px;">403.60</span>
<span class="t bn" style="left:503.9px;top:419px;">$</span>
<span class="t r bn" style="right:692.5px;top:419px;">3,755,671.81</span>
<span class="t r bn u" style="right:606.5px;top:71px;">$3,864,555.00</span>
<span class="t bn" style="left:591.9000000000001px;top:347px;">$</span>
<span class="t r bn" style="right:604.5px;top:347px;">7,123.70</span>
<span class="t r bn u" style="right:606.1px;top:359px;">$3,857,431.30</span>
<span class="t bn" style="left:591.9000000000001px;top:383px;">$</span>
<span class="t r bn" style="right:604.5px;top:383px;">3,857,431.30</span>
<span class="t bn" style="left:591.9000000000001px;top:395px;">$</span>
<span class="t r bn" style="right:604.5px;top:395px;">390.48</span>
<span class="t bn" style="left:591.9000000000001px;top:419px;">$</span>
<span class="t r bn" style="right:604.5px;top:419px;">3,760,614.80</span>
<span class="t r bn u" style="right:526.5px;top:71px;">$3,867,427.50</span>
<span class="t bn" style="left:679.9000000000001px;top:347px;">$</span>
<span class="t r bn" style="right:524.5px;top:347px;">7,129.89</span>
<span class="t r bn u" style="right:526.1px;top:359px;">$3,860,297.61</span>
<span class="t bn" style="left:679.9000000000001px;top:395px;">$</span>
<span class="t r bn" style="right:524.5px;top:395px;">377.30</span>
<span class="t r bn u" style="right:438.5px;top:71px;">$3,870,300.00</span>
<span class="t bn" style="left:759.9000000000001px;top:347px;">$</span>
<span class="t r bn" style="right:436.5px;top:347px;">7,136.38</span>
<span class="t r bn u" style="right:438.1px;top:359px;">$3,863,163.62</span>
<span class="t bn" style="left:759.9000000000001px;top:383px;">$</span>
<span class="t r bn" style="right:436.5px;top:383px;">3,863,163.62</span>
<span class="t bn" style="left:759.9000000000001px;top:395px;">$</span>
<span class="t r bn" style="right:436.5px;top:395px;">364.07</span>
<span class="t bn" style="left:759.9000000000001px;top:419px;">$</span>
<span class="t r bn" style="right:436.5px;top:419px;">3,766,229.56</span>
<span class="t r bn u" style="right:350.5px;top:71px;">$3,875,032.50</span>
<span class="t bn" style="left:847.9000000000001px;top:347px;">$</span>
<span class="t r bn" style="right:348.5px;top:347px;">7,143.20</span>
<span class="t r bn u" style="right:350.1px;top:359px;">$3,867,889.30</span>
<span class="t bn" style="left:847.9000000000001px;top:383px;">$</span>
<span class="t r bn" style="right:348.5px;top:383px;">3,867,889.30</span>
<span class="t bn" style="left:847.9000000000001px;top:395px;">$</span>
<span class="t r bn" style="right:348.5px;top:395px;">350.78</span>
<span class="t bn" style="left:847.9000000000001px;top:419px;">$</span>
<span class="t r bn" style="right:348.5px;top:419px;">3,770,850.06</span>
<span class="t r bn u" style="right:262.5px;top:71px;">$3,879,915.00</span>
<span class="t bn" style="left:935.9000000000001px;top:347px;">$</span>
<span class="t r bn" style="right:260.5px;top:347px;">7,150.36</span>
<span class="t r bn u" style="right:262.1px;top:359px;">$3,872,764.64</span>
<span class="t bn" style="left:935.9000000000001px;top:383px;">$</span>
<span class="t r bn" style="right:260.5px;top:383px;">3,872,764.64</span>
<span class="t bn" style="left:935.9000000000001px;top:395px;">$</span>
<span class="t r bn" style="right:260.5px;top:395px;">337.44</span>
<span class="t bn" style="left:935.9000000000001px;top:419px;">$</span>
<span class="t r bn" style="right:260.5px;top:419px;">3,775,616.52</span>
<span class="t r bn u" style="right:174.5px;top:71px;">$3,884,985.00</span>
<span class="t bn" style="left:1023.9000000000001px;top:347px;">$</span>
<span class="t r bn" style="right:172.5px;top:347px;">7,157.88</span>
<span class="t r bn u" style="right:174.1px;top:359px;">$3,877,827.12</span>
<span class="t bn" style="left:1023.9000000000001px;top:383px;">$</span>
<span class="t r bn" style="right:172.5px;top:383px;">3,877,827.12</span>
<span class="t bn" style="left:1023.9000000000001px;top:395px;">$</span>
<span class="t r bn" style="right:172.5px;top:395px;">324.04</span>
<span class="t bn" style="left:1023.9000000000001px;top:419px;">$</span>
<span class="t r bn" style="right:172.5px;top:419px;">3,780,565.51</span>
<span class="t r bn u" style="right:86.5px;top:71px;">$3,890,055.00</span>
<span class="t bn" style="left:1111.9px;top:347px;">$</span>
<span class="t r bn" style="right:84.5px;top:347px;">7,165.77</span>
<span class="t r bn u" style="right:86.1px;top:359px;">$3,882,889.23</span>
<span class="t bn" style="left:1111.9px;top:383px;">$</span>
<span class="t r bn" style="right:84.5px;top:383px;">3,882,889.23</span>
<span class="t bn" style="left:1111.9px;top:395px;">$</span>
<span class="t r bn" style="right:84.5px;top:395px;">310.59</span>
<span class="t bn" style="left:1111.9px;top:419px;">$</span>
<span class="t r bn" style="right:84.5px;top:419px;">3,785,514.18</span>
<span class="t r bn u" style="right:2.5px;top:71px;">$3,895,462.50</span>
<span class="t bn" style="left:1199.9px;top:347px;">$</span>
<span class="t r bn" style="right:0.5px;top:347px;">7,174.06</span>
<span class="t r bn u" style="right:2.1px;top:359px;">$3,888,288.44</span>
<span class="t bn" style="left:1199.9px;top:383px;">$</span>
<span class="t r bn" style="right:0.5px;top:383px;">3,888,288.44</span>
<span class="t bn" style="left:1199.9px;top:395px;">$</span>
<span class="t r bn" style="right:0.5px;top:395px;">297.08</span>
<span class="t bn" style="left:1199.9px;top:419px;">$</span>
<span class="t r bn" style="right:0.5px;top:419px;">3,790,791.58</span>
</section>
</div>
<svg width="0" height="0" style="position:absolute"><defs><filter id="th" x="0" y="0" width="100%" height="100%" color-interpolation-filters="sRGB"><feComponentTransfer><feFuncA type="linear" slope="2.1" intercept="-0.15"/></feComponentTransfer></filter><filter id="tbf" x="0" y="0" width="100%" height="100%" color-interpolation-filters="sRGB"><feComponentTransfer><feFuncA type="linear" slope="2.1" intercept="-0.15"/></feComponentTransfer></filter><filter id="tgf" x="0" y="0" width="100%" height="100%" color-interpolation-filters="sRGB"><feComponentTransfer><feFuncA type="linear" slope="1.5" intercept="-0.05"/></feComponentTransfer></filter></defs></svg></body></html>
